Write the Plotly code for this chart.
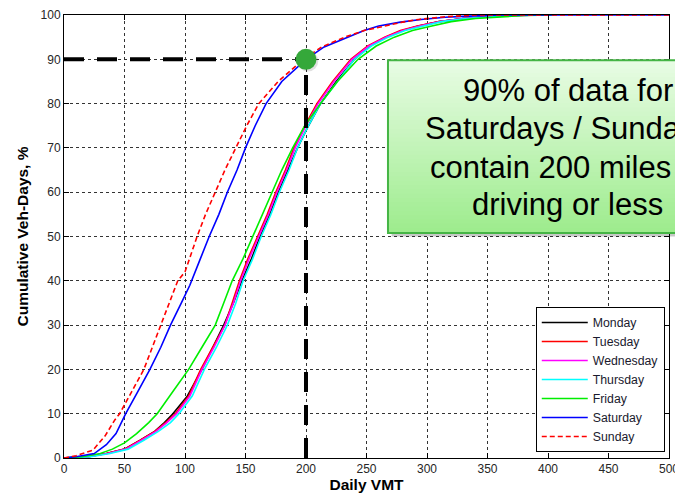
import plotly.graph_objects as go

# ---------------- data ----------------
monday_vmt = [0, 20, 35, 50, 63, 75, 83, 90, 102, 114, 123, 132, 140, 147, 155, 162, 170, 177, 185, 193, 202, 212, 225, 240, 253, 266, 280, 293, 310, 330, 350, 370, 400]
monday_pct = [0, 0.3, 1, 2, 4, 6, 8, 10, 14, 20, 25, 30, 35, 40, 45, 50, 55, 60, 65, 70, 75, 80, 85, 90, 93, 95, 96.5, 97.5, 98.5, 99.2, 99.6, 99.9, 100]

tuesday_vmt = [0, 20, 35, 50, 63, 75, 84, 92, 103, 113, 123, 133, 139, 145, 152, 160, 168, 175, 183, 190, 199, 209, 222, 237, 251, 265, 278, 292, 310, 330, 350, 370, 400]
tuesday_pct = [0, 0.3, 1, 2, 4, 6, 8, 10, 14, 20, 25, 30, 35, 40, 45, 50, 55, 60, 65, 70, 75, 80, 85, 90, 93, 95, 96.5, 97.5, 98.5, 99.2, 99.6, 99.9, 100]

wednesday_vmt = [0, 20, 36, 51, 64, 76, 85, 93, 104, 114, 124, 133, 140, 146, 153, 161, 169, 176, 184, 191, 200, 210, 223, 238, 252, 266, 280, 294, 311, 330, 350, 372, 402]
wednesday_pct = [0, 0.3, 1, 2, 4, 6, 8, 10, 14, 20, 25, 30, 35, 40, 45, 50, 55, 60, 65, 70, 75, 80, 85, 90, 93, 95, 96.5, 97.5, 98.5, 99.2, 99.6, 99.9, 100]

thursday_vmt = [0, 22, 38, 53, 66, 78, 88, 95, 106, 116, 126, 135, 142, 148, 156, 163, 171, 178, 186, 193, 202, 212, 226, 240, 254, 268, 282, 296, 312, 332, 352, 372, 402]
thursday_pct = [0, 0.3, 1, 2, 4, 6, 8, 10, 14, 20, 25, 30, 35, 40, 45, 50, 55, 60, 65, 70, 75, 80, 85, 90, 93, 95, 96.5, 97.5, 98.5, 99.2, 99.6, 99.9, 100]

friday_vmt = [0, 15, 30, 40, 50, 60, 70, 77, 90, 103, 114, 125, 132, 139, 148, 156, 164, 172, 180, 189, 199, 212, 226, 243, 258, 273, 288, 304, 320, 340, 360, 380, 405]
friday_pct = [0, 0.3, 1, 2, 3.4, 5.5, 8, 10, 15, 20, 25, 30, 35, 40, 45, 50, 55, 60, 65, 70, 75, 80, 85, 90, 93, 95, 96.5, 97.5, 98.5, 99.2, 99.6, 99.9, 100]

saturday_vmt = [0, 10, 25, 35, 43, 51, 61, 71, 80, 88, 97, 104, 112, 120, 128, 135, 143, 150, 158, 167, 180, 200, 215, 234, 248, 260, 278, 295, 315, 330, 345, 360, 500]
saturday_pct = [0, 0.3, 1, 3, 5.5, 10, 15, 20, 25, 30, 35, 39, 44.5, 50, 55, 60, 65, 70, 75, 80, 85, 90, 92.8, 95, 96.5, 97.5, 98.4, 99, 99.5, 99.7, 99.9, 100, 100]

sunday_vmt = [0, 10, 24, 34, 42, 46, 56, 66, 73, 80, 87, 94, 100, 105, 110, 117, 125, 133, 142, 151, 161, 177, 198, 213, 232, 248, 265, 280, 293, 315, 340, 500]
sunday_pct = [0, 0.5, 1.8, 5, 8.6, 10, 15, 20, 25, 30, 35, 40, 42, 46, 50, 55, 60, 65, 70, 75, 80, 85, 90, 92.8, 95, 96.5, 97.5, 98.4, 99, 99.6, 100, 100]

day_names = ["Monday", "Tuesday", "Wednesday", "Thursday", "Friday", "Saturday", "Sunday"]

marker_vmt = [200]
marker_pct = [90]

x_ticks = [0, 50, 100, 150, 200, 250, 300, 350, 400, 450, 500]
y_ticks = [0, 10, 20, 30, 40, 50, 60, 70, 80, 90, 100]

callout_lines = ["90% of data for", "Saturdays / Sundays", "contain 200 miles of", "driving or less"]

# ---------------- figure ----------------
FONT = "Arial, 'Liberation Sans', sans-serif"
series = [
    (monday_vmt, monday_pct, "#000000", "solid"),
    (tuesday_vmt, tuesday_pct, "#ff0000", "solid"),
    (wednesday_vmt, wednesday_pct, "#ff00ff", "solid"),
    (thursday_vmt, thursday_pct, "#00ffff", "solid"),
    (friday_vmt, friday_pct, "#00ee00", "solid"),
    (saturday_vmt, saturday_pct, "#0000ff", "solid"),
    (sunday_vmt, sunday_pct, "#ff0000", "5px,3px"),
]

fig = go.Figure()
for name, (xv, yv, col, dash) in zip(day_names, series):
    fig.add_trace(go.Scatter(
        x=xv, y=yv, name=name, mode="lines",
        line=dict(color=col, width=1.6, dash=dash),
    ))

# reference dashed lines at 200 miles / 90 %
fig.add_trace(go.Scatter(
    x=[0, marker_vmt[0]], y=[marker_pct[0], marker_pct[0]], mode="lines",
    line=dict(color="black", width=4, dash="20px,13px"), showlegend=False, hoverinfo="skip"))
fig.add_trace(go.Scatter(
    x=[marker_vmt[0], marker_vmt[0]], y=[0, marker_pct[0]], mode="lines",
    line=dict(color="black", width=4, dash="20px,13px"), showlegend=False, hoverinfo="skip"))
# shadow + dot
fig.add_trace(go.Scatter(
    x=[marker_vmt[0] + 1.5], y=[marker_pct[0] - 0.4], mode="markers",
    marker=dict(size=21, color="rgba(0,0,0,0.12)", line=dict(width=0)),
    showlegend=False, hoverinfo="skip"))
fig.add_trace(go.Scatter(
    x=marker_vmt, y=marker_pct, mode="markers",
    marker=dict(size=21, color="#35a83a", line=dict(width=0)),
    showlegend=False, hoverinfo="skip"))

# callout box with vertical gradient
x0, x1, y0, y1 = 0.5355, 1.14, 0.508, 0.898
shapes = []
shapes.append(dict(type="rect", xref="paper", yref="paper",
                   x0=x0 + 0.006, x1=x1 + 0.006, y0=y0 - 0.008, y1=y1 - 0.008,
                   fillcolor="rgba(0,0,0,0.22)", line=dict(width=0), layer="above"))
n = 40
top = (232, 252, 228)
bot = (158, 236, 142)
for i in range(n):
    t = i / (n - 1)
    c = tuple(int(round(top[k] + (bot[k] - top[k]) * t)) for k in range(3))
    ya = y1 - (y1 - y0) * i / n
    yb = y1 - (y1 - y0) * (i + 1) / n
    shapes.append(dict(type="rect", xref="paper", yref="paper",
                       x0=x0, x1=x1, y0=yb - 0.001, y1=ya + 0.001,
                       fillcolor="rgb(%d,%d,%d)" % c, line=dict(width=0), layer="above"))
shapes.append(dict(type="rect", xref="paper", yref="paper",
                   x0=x0, x1=x1, y0=y0, y1=y1,
                   fillcolor="rgba(0,0,0,0)", line=dict(color="#45b545", width=2), layer="above"))

# one annotation per callout line (paper y of each line centre)
line_y = [(458 - p) / 443 for p in (90, 128.5, 167, 205)]
annotations = [dict(
    xref="paper", yref="paper", x=0.833, y=yy,
    text=txt, showarrow=False,
    xanchor="center", yanchor="middle", align="center",
    font=dict(family=FONT, size=31, color="black"),
) for txt, yy in zip(callout_lines, line_y)]

fig.update_layout(
    width=675, height=489,
    margin=dict(l=56, r=14, t=7, b=39),
    paper_bgcolor="white", plot_bgcolor="white",
    font=dict(family=FONT, color="#262626", size=12),
    shapes=shapes,
    annotations=annotations,
    legend=dict(
        x=0.993, y=0.0135, xanchor="right", yanchor="bottom",
        bgcolor="white", bordercolor="black", borderwidth=1,
        font=dict(family=FONT, size=12.3, color="#1a1a2e"),
        tracegroupgap=0, itemwidth=46,
    ),
    xaxis=dict(
        range=[0, 500], tickvals=x_ticks, ticktext=[str(v) for v in x_ticks],
        showgrid=True, gridcolor="#333333", griddash="3px,3px", gridwidth=1,
        showline=True, linecolor="black", linewidth=1, mirror="ticks",
        ticks="inside", ticklen=5, tickcolor="black", zeroline=False,
        automargin=False,
        title=dict(text="<b>Daily VMT</b>", font=dict(size=15.5, color="black"), standoff=2),
        tickfont=dict(size=12, color="#262626"),
    ),
    yaxis=dict(
        range=[0, 100], tickvals=y_ticks, ticktext=[str(v) for v in y_ticks],
        showgrid=True, gridcolor="#333333", griddash="3px,3px", gridwidth=1,
        showline=True, linecolor="black", linewidth=1, mirror="ticks",
        ticks="inside", ticklen=5, tickcolor="black", zeroline=False,
        automargin=False,
        title=dict(text="<b>Cumulative Veh-Days, %</b>", font=dict(size=15.5, color="black"), standoff=8),
        tickfont=dict(size=12, color="#262626"),
    ),
)

fig.write_html("out.html")
